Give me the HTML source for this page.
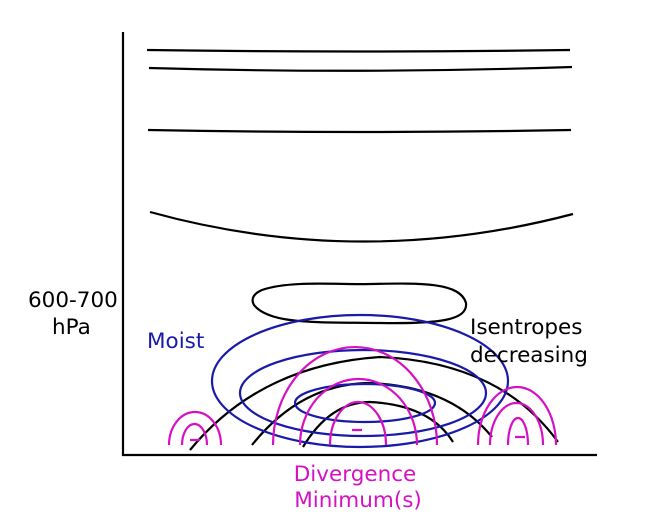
<!DOCTYPE html>
<html><head><style>body{margin:0;background:#fff}svg{display:block}text{font-family:"DejaVu Sans","Liberation Sans",sans-serif;font-size:21.5px}</style></head>
<body>
<svg width="650" height="524" viewBox="0 0 650 524" xmlns="http://www.w3.org/2000/svg" fill="none" stroke-width="2.2">
<g stroke="#000">
<path d="M123 32 V455 H597"/>
<path d="M147 50 Q358 53 570 50"/>
<path d="M149 68 Q360 74 572 67"/>
<path d="M148 130 Q360 134 571 130"/>
<path d="M150 212 Q360 270 573 214"/>
<path d="M262 290 C290 280 340 285 370 284 C420 283 460 282 466 303 C468 320 440 324 380 323 C320 322 270 325 254 305 C250 298 255 293 262 290 Z"/>
<path d="M190 450 Q260 365 380 357 Q500 362 558 442"/>
<path d="M252 445 Q300 385 367 383 Q450 385 492 437"/>
<path d="M303 447 Q330 402 370 402 Q430 405 453 442"/>
</g>
<g stroke="#1a1aa8">
<ellipse cx="360" cy="381" rx="148" ry="66"/>
<ellipse cx="363" cy="393" rx="123" ry="43"/>
<ellipse cx="365" cy="403" rx="70" ry="19"/>
</g>
<g stroke="#d412c4">
<path d="M273 445 A82 98 0 0 1 437 445"/>
<path d="M300 445 A58.5 66 0 0 1 417 445"/>
<path d="M330 445 A28 43 0 0 1 386 445"/>
<path d="M169 445 A26 33 0 0 1 221 445"/>
<path d="M182 445 A12.5 21 0 0 1 207 445"/>
<path d="M478 445 A39 58 0 0 1 556 445"/>
<path d="M490 445 A26.5 42 0 0 1 543 445"/>
<path d="M508 445 A10 27 0 0 1 528 445"/>
<path d="M352 430 H362 M190 440 H200 M515 437 H525"/>
</g>
<g stroke="none">
<text x="28" y="307" fill="#000">600-700</text>
<text x="52" y="334" fill="#000">hPa</text>
<text x="147" y="348" fill="#1a1aa8">Moist</text>
<text x="470" y="334" fill="#000">Isentropes</text>
<text x="470" y="362" fill="#000">decreasing</text>
<text x="355" y="481" fill="#d412c4" text-anchor="middle">Divergence</text>
<text x="358" y="507" fill="#d412c4" text-anchor="middle">Minimum(s)</text>
</g>
</svg>
</body></html>
